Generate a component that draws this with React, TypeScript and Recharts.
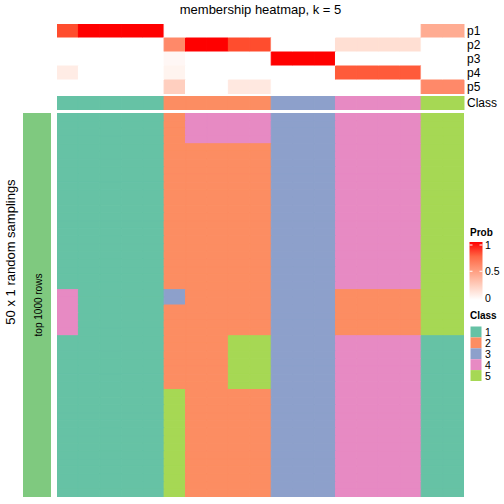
import React from 'react';
import { BarChart, Bar, Cell, XAxis, YAxis } from 'recharts';

// consensus columns (19 partitions), grouped by their final class
const columnIds = ['c1', 'c2', 'c3', 'c4', 'c5', 'c6', 'c7', 'c8', 'c9', 'c10', 'c11', 'c12', 'c13', 'c14', 'c15', 'c16', 'c17', 'c18', 'c19'];

const probLabels = ['p1', 'p2', 'p3', 'p4', 'p5'];
const p1 = [0.85, 1, 1, 1, 1, 0, 0, 0, 0, 0, 0, 0, 0, 0, 0, 0, 0, 0.43, 0.43];
const p2 = [0, 0, 0, 0, 0, 0.6, 1, 1, 0.85, 0.85, 0, 0, 0, 0.17, 0.17, 0.17, 0.17, 0, 0];
const p3 = [0, 0, 0, 0, 0, 0.04, 0, 0, 0, 0, 1, 1, 1, 0, 0, 0, 0, 0, 0];
const p4 = [0.1, 0, 0, 0, 0, 0.06, 0, 0, 0, 0, 0, 0, 0, 0.8, 0.8, 0.8, 0.8, 0, 0];
const p5 = [0, 0, 0, 0, 0, 0.25, 0, 0, 0.12, 0.12, 0, 0, 0, 0, 0, 0, 0, 0.6, 0.6];
const probs = [p1, p2, p3, p4, p5];

const consensusClass = [1, 1, 1, 1, 1, 2, 2, 2, 2, 2, 3, 3, 3, 4, 4, 4, 4, 5, 5];

// class of every column in each of the 50 random samplings (one string per row)
const samplings = [
  '1111124444333444455',
  '1111124444333444455',
  '1111124444333444455',
  '1111124444333444455',
  '1111122222333444455',
  '1111122222333444455',
  '1111122222333444455',
  '1111122222333444455',
  '1111122222333444455',
  '1111122222333444455',
  '1111122222333444455',
  '1111122222333444455',
  '1111122222333444455',
  '1111122222333444455',
  '1111122222333444455',
  '1111122222333444455',
  '1111122222333444455',
  '1111122222333444455',
  '1111122222333444455',
  '1111122222333444455',
  '1111122222333444455',
  '1111122222333444455',
  '1111122222333444455',
  '4111132222333222255',
  '4111132222333222255',
  '4111122222333222255',
  '4111122222333222255',
  '4111122222333222255',
  '4111122222333222255',
  '1111122255333444411',
  '1111122255333444411',
  '1111122255333444411',
  '1111122255333444411',
  '1111122255333444411',
  '1111122255333444411',
  '1111122255333444411',
  '1111152222333444411',
  '1111152222333444411',
  '1111152222333444411',
  '1111152222333444411',
  '1111152222333444411',
  '1111152222333444411',
  '1111152222333444411',
  '1111152222333444411',
  '1111152222333444411',
  '1111152222333444411',
  '1111152222333444411',
  '1111152222333444411',
  '1111152222333444411',
  '1111152222333444411',
];

const classLabels = ['1', '2', '3', '4', '5'];
const classColors: Record<string, string> = {
  '1': '#66C2A5',
  '2': '#FC8D62',
  '3': '#8DA0CB',
  '4': '#E78AC3',
  '5': '#A6D854',
};
const probTicks = [1, 0.5, 0];

const FONT = '"Liberation Sans", Arial, Helvetica, sans-serif';

// white -> red ramp interpolated in LAB space
const probColor = (v: number) => {
  const L = 100 + (53.24 - 100) * v;
  const a = 80.09 * v;
  const b = 67.2 * v;
  const fy = (L + 16) / 116;
  const fx = fy + a / 500;
  const fz = fy - b / 200;
  const inv = (t: number) => (t ** 3 > 0.008856 ? t ** 3 : (t - 16 / 116) / 7.787);
  const X = 0.95047 * inv(fx);
  const Y = inv(fy);
  const Z = 1.08883 * inv(fz);
  const lin = [
    3.2406 * X - 1.5372 * Y - 0.4986 * Z,
    -0.9689 * X + 1.8758 * Y + 0.0415 * Z,
    0.0557 * X - 0.204 * Y + 1.057 * Z,
  ];
  const ch = lin.map((c) => {
    const cc = Math.min(1, Math.max(0, c));
    const s = cc <= 0.0031308 ? 12.92 * cc : 1.055 * cc ** (1 / 2.4) - 0.055;
    return Math.round(s * 255);
  });
  return `rgb(${ch[0]},${ch[1]},${ch[2]})`;
};

const HM_LEFT = 57;
const HM_WIDTH = 407;
const AXIS_W = 40;
const barW = HM_WIDTH / columnIds.length - 0.01;
// a thin stroke in the fill colour hides anti-aliasing seams between cells
const SEAM = 1;

const mainData = columnIds.map((id) => {
  const d: Record<string, any> = { id };
  samplings.forEach((_, r) => { d[`r${r}`] = 1; });
  return d;
});

const probData = columnIds.map((id) => {
  const d: Record<string, any> = { id };
  probLabels.forEach((p) => { d[p] = 1; });
  return d;
});

const classData = columnIds.map((id) => ({ id, cls: 1 }));

const App: React.FC = () => {
  return (
    <div style={{ position: 'absolute', left: 0, top: 0, width: 504, height: 504, background: '#fff', fontFamily: FONT }}>
      <div style={{ position: 'absolute', left: HM_LEFT, width: HM_WIDTH, top: 2, textAlign: 'center', fontSize: 13, lineHeight: '16px' }}>
        membership heatmap, k = 5
      </div>

      {/* membership probabilities */}
      <div style={{ position: 'absolute', left: HM_LEFT, top: 24 }}>
        <BarChart width={HM_WIDTH + AXIS_W} height={70} data={probData} margin={{ top: 0, right: 0, bottom: 0, left: 0 }} barCategoryGap={0} barGap={0}>
          <XAxis dataKey="id" hide />
          <YAxis
            orientation="right"
            type="number"
            domain={[0, 5]}
            reversed
            width={AXIS_W}
            ticks={[0.5, 1.5, 2.5, 3.5, 4.5]}
            interval={0}
            tickFormatter={(v: number) => probLabels[Math.floor(v)]}
            axisLine={false}
            tickLine={false}
            tickSize={0}
            tickMargin={3}
            tick={{ fontSize: 12, fill: '#000', fontFamily: FONT }}
          />
          {probLabels.map((p, i) => (
            <Bar key={p} dataKey={p} stackId="p" barSize={barW} isAnimationActive={false}>
              {columnIds.map((id, c) => {
                const col = probColor(probs[i][c]);
                return <Cell key={id} fill={col} stroke={col} strokeWidth={SEAM} />;
              })}
            </Bar>
          ))}
        </BarChart>
      </div>

      {/* consensus class row */}
      <div style={{ position: 'absolute', left: HM_LEFT, top: 96 }}>
        <BarChart width={HM_WIDTH + AXIS_W} height={14} data={classData} margin={{ top: 0, right: 0, bottom: 0, left: 0 }} barCategoryGap={0} barGap={0}>
          <XAxis dataKey="id" hide />
          <YAxis
            orientation="right"
            type="number"
            domain={[0, 1]}
            reversed
            width={AXIS_W}
            ticks={[0.5]}
            interval={0}
            tickFormatter={() => 'Class'}
            axisLine={false}
            tickLine={false}
            tickSize={0}
            tickMargin={3}
            tick={{ fontSize: 12, fill: '#000', fontFamily: FONT }}
          />
          <Bar dataKey="cls" barSize={barW} isAnimationActive={false}>
            {columnIds.map((id, c) => {
              const col = classColors[String(consensusClass[c])];
              return <Cell key={id} fill={col} stroke={col} strokeWidth={SEAM} />;
            })}
          </Bar>
        </BarChart>
      </div>

      {/* 50 random samplings */}
      <div style={{ position: 'absolute', left: HM_LEFT, top: 113 }}>
        <BarChart width={HM_WIDTH} height={384} data={mainData} margin={{ top: 0, right: 0, bottom: 0, left: 0 }} barCategoryGap={0} barGap={0}>
          <XAxis dataKey="id" hide />
          <YAxis type="number" domain={[0, samplings.length]} reversed hide />
          {samplings.map((row, r) => (
            <Bar key={r} dataKey={`r${r}`} stackId="s" barSize={barW} isAnimationActive={false}>
              {columnIds.map((id, c) => {
                const col = classColors[row[c]];
                return <Cell key={id} fill={col} stroke={col} strokeWidth={SEAM} />;
              })}
            </Bar>
          ))}
        </BarChart>
      </div>

      <svg width={504} height={504} style={{ position: 'absolute', left: 0, top: 0, pointerEvents: 'none' }}>
        <defs>
          <linearGradient id="probGrad" x1="0" y1="0" x2="0" y2="1">
            {[1, 0.75, 0.5, 0.25, 0].map((v, i) => (
              <stop key={i} offset={`${(1 - v) * 100}%`} stopColor={probColor(v)} />
            ))}
          </linearGradient>
        </defs>
        <text x={10} y={252} transform="rotate(-90 10 252)" textAnchor="middle" dominantBaseline="central" fontSize={13} fontFamily={FONT}>
          50 x 1 random samplings
        </text>
        <rect x={23} y={113} width={28} height={384} fill="#7FC97F" />
        <text x={38} y={305} transform="rotate(-90 38 305)" textAnchor="middle" dominantBaseline="central" fontSize={10} fontFamily={FONT}>
          top 1000 rows
        </text>

        {/* Prob legend */}
        <text x={470} y={236} fontSize={10} fontWeight="bold" fontFamily={FONT}>Prob</text>
        <rect x={469.5} y={242} width={13} height={58} fill="url(#probGrad)" />
        {probTicks.map((v) => {
          const y = 297.5 - v * 52.5;
          return (
            <g key={v}>
              {v > 0 && <line x1={469.5} x2={472.5} y1={y} y2={y} stroke="#fff" strokeWidth={1} />}
              {v > 0 && <line x1={479.5} x2={482.5} y1={y} y2={y} stroke="#fff" strokeWidth={1} />}
              <text x={485} y={y} dominantBaseline="central" fontSize={10.5} fontFamily={FONT}>{v}</text>
            </g>
          );
        })}

        {/* Class legend */}
        <text x={470} y={319} fontSize={10} fontWeight="bold" fontFamily={FONT}>Class</text>
        {classLabels.map((c, i) => (
          <g key={c}>
            <rect x={470.5} y={326.5 + i * 10.9} width={11} height={10.9} fill={classColors[c]} />
            <text x={485} y={332 + i * 10.9} dominantBaseline="central" fontSize={10.5} fontFamily={FONT}>{c}</text>
          </g>
        ))}
      </svg>
    </div>
  );
};

export default App;
